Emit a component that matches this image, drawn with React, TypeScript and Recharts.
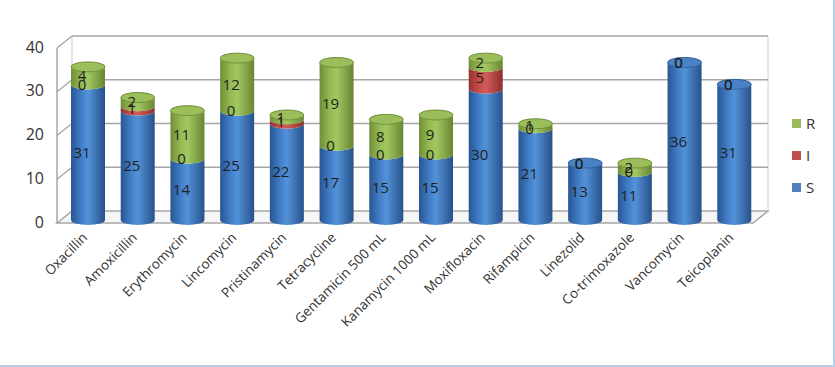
import React from 'react'
import { BarChart, Bar, XAxis, YAxis, CartesianGrid, LabelList } from 'recharts'

const drugs = [
  'Oxacillin', 'Amoxicillin', 'Erythromycin', 'Lincomycin', 'Pristinamycin', 'Tetracycline',
  'Gentamicin 500 mL', 'Kanamycin 1000 mL', 'Moxifloxacin', 'Rifampicin', 'Linezolid',
  'Co-trimoxazole', 'Vancomycin', 'Teicoplanin',
]
const sValues = [31, 25, 14, 25, 22, 17, 15, 15, 30, 21, 13, 11, 36, 31]
const iValues = [0, 1, 0, 0, 1, 0, 0, 0, 5, 0, 0, 0, 0, 0]
const rValues = [4, 2, 11, 12, 1, 19, 8, 9, 2, 1, 0, 2, 0, 0]
const yTicks = [0, 10, 20, 30, 40]
const legendKeys = ['R', 'I', 'S']

const chartData = drugs.map((name, i) => ({ name, S: sValues[i], I: iValues[i], R: rValues[i] }))

const FONT = '"Open Sans", "Noto Sans", sans-serif'
const GRID = '#a6a6a6'
// 3D depth offsets (front edge -> back wall)
const FRONT_DX = -6
const FRONT_DY = 3
const BACK_DX = 9
const BACK_DY = -9
const RY = 5

const colors: Record<string, { grad: string; cap: string; rim: string; swatch: string }> = {
  S: { grad: 'url(#gBlue)', cap: '#4a82c6', rim: '#2f5e97', swatch: '#4f81bd' },
  I: { grad: 'url(#gRed)', cap: '#c9524e', rim: '#933230', swatch: '#c0504d' },
  R: { grad: 'url(#gGreen)', cap: '#9bbe5a', rim: '#6f8f37', swatch: '#9bbb59' },
}

function cylinder(key: string) {
  return (props: any) => {
    const { x, y, width, height, payload } = props
    const w = width
    const h = Math.max(0, height || 0)
    const rx = w / 2
    const body = h > 0.5 ? (
      <path
        d={`M${x},${y} A${rx},${RY} 0 0 0 ${x + w},${y} L${x + w},${y + h} A${rx},${RY} 0 0 1 ${x},${y + h} Z`}
        fill={colors[key].grad}
      />
    ) : null
    let cap = null
    if (key === 'R') {
      const topKey = payload.R > 0 ? 'R' : payload.I > 0 ? 'I' : 'S'
      cap = (
        <ellipse
          cx={x + rx}
          cy={y}
          rx={rx}
          ry={RY}
          fill={colors[topKey].cap}
          stroke={colors[topKey].rim}
          strokeWidth={1}
        />
      )
    }
    return (
      <g>
        {body}
        {cap}
      </g>
    )
  }
}

const segLabel = (props: any) => {
  const { x, y, width, height, value } = props
  return (
    <text
      x={x + width / 2 - 6}
      y={y + height / 2}
      dy="0.36em"
      textAnchor="middle"
      fontSize={15}
      fontFamily={FONT}
      fill="#1f1f1f"
    >
      {value}
    </text>
  )
}

const gridLine = (props: any) => {
  const { x1, y1, x2, index } = props
  const fx = x1 + FRONT_DX
  const bx = x1 + BACK_DX
  const isFloor = Math.abs(y1 - (props.y + props.height)) < 1
  return (
    <g key={`h-${index}`}>
      {isFloor ? (
        <g>
          <polygon
            points={`${fx},${y1 + FRONT_DY} ${bx},${y1 + BACK_DY} ${x2 + BACK_DX},${y1 + BACK_DY} ${x2 + FRONT_DX},${y1 + FRONT_DY}`}
            fill="#f6f6f6"
            stroke={GRID}
            strokeWidth={1.5}
          />
          <line x1={fx} y1={props.y + FRONT_DY} x2={fx} y2={y1 + FRONT_DY} stroke={GRID} strokeWidth={1.5} />
          <line x1={bx} y1={props.y + BACK_DY} x2={bx} y2={y1 + BACK_DY} stroke="#d0d0d0" strokeWidth={1} />
          <line x1={x2 + BACK_DX} y1={props.y + BACK_DY} x2={x2 + BACK_DX} y2={y1 + BACK_DY} stroke="#d0d0d0" strokeWidth={1} />
        </g>
      ) : (
        <g>
          <line x1={fx} y1={y1 + FRONT_DY} x2={bx} y2={y1 + BACK_DY} stroke={GRID} strokeWidth={1.5} />
          <line x1={bx} y1={y1 + BACK_DY} x2={x2 + BACK_DX} y2={y1 + BACK_DY} stroke={GRID} strokeWidth={1.5} />
        </g>
      )}
    </g>
  )
}

const XTick = (props: any) => {
  const { x, y, payload } = props
  const ax = x - 3
  const ay = y + 7
  return (
    <text
      x={ax}
      y={ay}
      dy="0.35em"
      textAnchor="end"
      fontSize={13.5}
      fontFamily={FONT}
      fill="#333"
      transform={`rotate(-45, ${ax}, ${ay})`}
    >
      {payload.value}
    </text>
  )
}

const YTick = (props: any) => {
  const { x, y, payload } = props
  return (
    <text x={x - 11} y={y + 2} dy="0.35em" textAnchor="end" fontSize={16} fontFamily={FONT} fill="#333">
      {payload.value}
    </text>
  )
}

export default function App() {
  return (
    <div
      style={{
        position: 'absolute',
        left: 0,
        top: 0,
        width: 835,
        height: 367,
        background: '#fff',
        borderRight: '2px solid #b9cde5',
        borderBottom: '2px solid #b9cde5',
        boxSizing: 'border-box',
      }}
    >
      <BarChart
        width={835}
        height={367}
        data={chartData}
        margin={{ top: 45, right: 76, bottom: 7, left: 0 }}
        barSize={34}
        style={{ position: 'absolute', left: 0, top: 0 }}
      >
        <defs>
          <linearGradient id="gBlue" x1="0" y1="0" x2="1" y2="0">
            <stop offset="0%" stopColor="#285592" />
            <stop offset="30%" stopColor="#417dc6" />
            <stop offset="50%" stopColor="#5392d8" />
            <stop offset="100%" stopColor="#27518a" />
          </linearGradient>
          <linearGradient id="gRed" x1="0" y1="0" x2="1" y2="0">
            <stop offset="0%" stopColor="#963230" />
            <stop offset="30%" stopColor="#c54e4a" />
            <stop offset="50%" stopColor="#d05c58" />
            <stop offset="100%" stopColor="#8c2f2c" />
          </linearGradient>
          <linearGradient id="gGreen" x1="0" y1="0" x2="1" y2="0">
            <stop offset="0%" stopColor="#6f8e36" />
            <stop offset="30%" stopColor="#94ba54" />
            <stop offset="50%" stopColor="#a2c862" />
            <stop offset="100%" stopColor="#688532" />
          </linearGradient>
        </defs>
        <CartesianGrid vertical={false} horizontal={gridLine} />
        <XAxis dataKey="name" axisLine={false} tickLine={false} interval={0} height={140} tick={<XTick />} />
        <YAxis domain={[0, 40]} ticks={yTicks} interval={0} axisLine={false} tickLine={false} width={63} tick={<YTick />} />
        <Bar dataKey="S" stackId="a" isAnimationActive={false} shape={cylinder('S')}>
          <LabelList dataKey="S" content={segLabel} />
        </Bar>
        <Bar dataKey="I" stackId="a" isAnimationActive={false} shape={cylinder('I')}>
          <LabelList dataKey="I" content={segLabel} />
        </Bar>
        <Bar dataKey="R" stackId="a" isAnimationActive={false} shape={cylinder('R')}>
          <LabelList dataKey="R" content={segLabel} />
        </Bar>
      </BarChart>
      <div style={{ position: 'absolute', left: 792, top: 107, fontFamily: FONT, fontSize: 15, color: '#333' }}>
        {legendKeys.map((k) => (
          <div key={k} style={{ display: 'flex', alignItems: 'center', height: 32 }}>
            <span style={{ width: 9, height: 9, background: colors[k].swatch, marginRight: 5, display: 'inline-block' }} />
            <span>{k}</span>
          </div>
        ))}
      </div>
    </div>
  )
}
